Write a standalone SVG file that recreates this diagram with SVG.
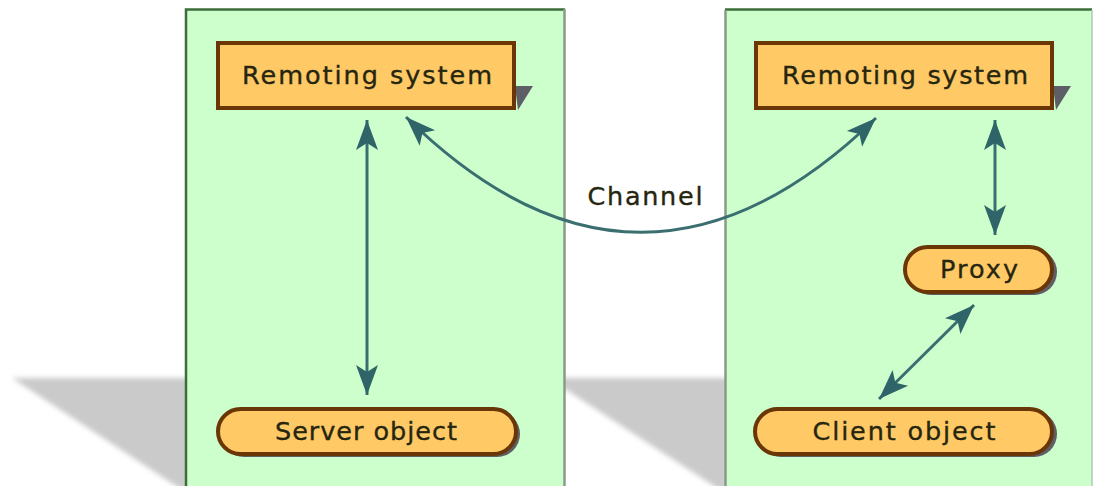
<svg xmlns="http://www.w3.org/2000/svg" width="1094" height="486" viewBox="0 0 1094 486">
<style>
.panel{fill:#ccffcc;}
.edge-g{stroke:#3b6e3b;stroke-width:2.5;fill:none;}
.edge-gray{stroke:#8a9a8a;stroke-width:2.5;fill:none;}
.box{fill:#ffc966;stroke:#6a3606;stroke-width:4;}
.nshadow{fill:#5e5e66;}
.lbl{font-family:"DejaVu Sans","Verdana",sans-serif;font-size:25.5px;fill:#26260f;stroke:#26260f;stroke-width:0.35;text-anchor:middle;}
.conn{fill:none;stroke:#3a6e70;stroke-width:3;}
.shadow{fill:#cacaca;}
</style>
<defs>
<marker id="arr" viewBox="-32 -13 34 26" refX="0" refY="0" markerUnits="userSpaceOnUse" markerWidth="34" markerHeight="26" orient="auto-start-reverse">
<path d="M0,0 L-30,-11 L-23,0 L-30,11 Z" fill="#2f6468"/>
</marker>
<filter id="blur" x="-10%" y="-10%" width="120%" height="120%"><feGaussianBlur stdDeviation="2.5"/></filter>
</defs>
<g id="shadows" filter="url(#blur)">
<polygon class="shadow" points="12,378 190,378 190,490 182,490"/>
<polygon class="shadow" points="548,378 728,378 728,490 720,490"/>
</g>
<g id="server-panel">
<rect class="panel" x="186" y="9" width="379" height="480"/>
<path class="edge-g" d="M186,489 V9.5 H565"/>
<path class="edge-gray" d="M564.5,9 V489"/>
</g>
<g id="client-panel">
<rect class="panel" x="725" y="9" width="367" height="480"/>
<path class="edge-g" d="M725,9.5 H1092"/>
<path class="edge-gray" d="M725.5,10 V489"/>
<path d="M1092,10 V489" stroke="#b0c8b0" stroke-width="1.5" fill="none"/>
</g>
<g id="connectors">
<path class="conn" d="M367,120 V395" marker-start="url(#arr)" marker-end="url(#arr)"/>
<path class="conn" d="M995,120 V235" marker-start="url(#arr)" marker-end="url(#arr)"/>
<path class="conn" d="M879,399 L974,305" marker-start="url(#arr)" marker-end="url(#arr)"/>
<path class="conn" d="M406,117 Q640,347 876,118" marker-start="url(#arr)" marker-end="url(#arr)"/>
<text class="lbl" x="645" y="205" textLength="115" lengthAdjust="spacing">Channel</text>
</g>
<g id="server-remoting">
<polygon class="nshadow" points="515,86 533,86 518,110"/>
<rect class="box" x="218" y="43" width="296" height="65"/>
<text class="lbl" x="367" y="84" textLength="250" lengthAdjust="spacing">Remoting system</text>
</g>
<g id="client-remoting">
<polygon class="nshadow" points="1053,86 1071,86 1056,110"/>
<rect class="box" x="756" y="43" width="296" height="65"/>
<text class="lbl" x="905" y="84" textLength="246" lengthAdjust="spacing">Remoting system</text>
</g>
<g id="server-object">
<rect class="nshadow" x="221" y="411" width="299" height="46" rx="23"/>
<rect class="box" x="218" y="409" width="298" height="45" rx="22.5"/>
<text class="lbl" x="366" y="440" textLength="182" lengthAdjust="spacing">Server object</text>
</g>
<g id="proxy">
<rect class="nshadow" x="908" y="249" width="149" height="46" rx="23"/>
<rect class="box" x="905" y="247" width="147" height="45" rx="22.5"/>
<text class="lbl" x="979" y="278" textLength="78" lengthAdjust="spacing">Proxy</text>
</g>
<g id="client-object">
<rect class="nshadow" x="758" y="411" width="299" height="46" rx="23"/>
<rect class="box" x="755" y="409" width="297" height="45" rx="22.5"/>
<text class="lbl" x="904" y="440" textLength="183" lengthAdjust="spacing">Client object</text>
</g>
</svg>
